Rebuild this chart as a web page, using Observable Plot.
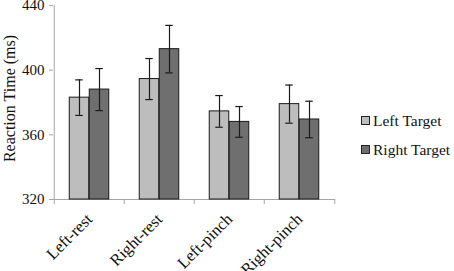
<!DOCTYPE html>
<html>
<head>
<meta charset="utf-8">
<script src="https://cdn.jsdelivr.net/npm/d3@7"></script>
<script src="https://cdn.jsdelivr.net/npm/@observablehq/plot@0.6"></script>
<style>
  html, body { margin: 0; padding: 0; background: #fff; }
  #wrap { position: relative; width: 454px; height: 271px; font-family: "Liberation Serif", serif; }
  #wrap svg { position: absolute; left: 0; top: 0; }
  #legend { position: absolute; left: 361px; top: 106px; font-size: 15.5px; color: #111; }
  .item { display: flex; align-items: center; height: 29px; }
  .sw { width: 7px; height: 7px; border: 1px solid #222; margin-right: 3px; }
</style>
</head>
<body>
<div id="wrap"><div id="legend"></div></div>
<script>
const categories = ["Left-rest", "Right-rest", "Left-pinch", "Right-pinch"];
const series = ["Left Target", "Right Target"];
const leftTarget = [383, 394.5, 374.5, 379];
const rightTarget = [388, 413, 368, 369.5];
const leftErr = [11, 12.7, 9.8, 11.8];
const rightErr = [13, 14.7, 9.5, 11.3];
const yTicks = [320, 360, 400, 440];
const colors = ["#bdbdbd", "#6f6f6f"];

const W = 454, H = 271;
const mL = 53, mR = 119, mT = 5, mB = 72;
const band = (W - mL - mR) / categories.length;
const barW = 20;
const side = (band - 2 * barW) / 2;

const left = categories.map((c, i) => ({cat: c, v: leftTarget[i], e: leftErr[i]}));
const right = categories.map((c, i) => ({cat: c, v: rightTarget[i], e: rightErr[i]}));

function barMarks(data, color, off) {
  const insL = off < 0 ? side : side + barW;
  const insR = off < 0 ? side + barW : side;
  return [
    Plot.barY(data, {x: "cat", y1: 320, y2: "v", fill: color, stroke: "#1a1a1a", strokeWidth: 1, insetLeft: insL, insetRight: insR}),
    Plot.ruleX(data, {x: "cat", y1: d => d.v - d.e, y2: d => d.v + d.e, dx: off, stroke: "#1a1a1a", strokeWidth: 1.2}),
    Plot.tickY(data, {x: "cat", y: d => d.v + d.e, dx: off, insetLeft: band / 2 - 4, insetRight: band / 2 - 4, stroke: "#1a1a1a", strokeWidth: 1.2}),
    Plot.tickY(data, {x: "cat", y: d => d.v - d.e, dx: off, insetLeft: band / 2 - 4, insetRight: band / 2 - 4, stroke: "#1a1a1a", strokeWidth: 1.2})
  ];
}

const chart = Plot.plot({
  width: W, height: H,
  marginLeft: mL, marginRight: mR, marginTop: mT, marginBottom: mB,
  style: {fontFamily: "Liberation Serif, serif", fontSize: "15px", color: "#111", background: "transparent", overflow: "visible"},
  x: {domain: categories, padding: 0, axis: null},
  y: {domain: [320, 440], ticks: yTicks, label: null},
  marks: [
    Plot.axisY({ticks: yTicks, tickSize: 4, tickPadding: 5, stroke: "#a6a6a6", label: null, fontSize: 15}),
    Plot.ruleX([0], {x: () => categories[0], dx: -band / 2, stroke: "#a6a6a6"}),
    Plot.ruleY([320], {stroke: "#a6a6a6"}),
    Plot.ruleX(categories, {x: d => d, dx: -band / 2, y1: 320, y2: 316.9, stroke: "#a6a6a6"}),
    Plot.ruleX([categories[categories.length - 1]], {x: d => d, dx: band / 2, y1: 320, y2: 316.9, stroke: "#a6a6a6"}),
    ...barMarks(left, colors[0], -barW / 2),
    ...barMarks(right, colors[1], barW / 2),
    Plot.text(categories, {x: d => d, y: 320, text: d => d, rotate: -45, textAnchor: "end", lineAnchor: "middle", dx: 0, dy: 17, fontSize: 16.5, fill: "#111"}),
    Plot.text(["Reaction Time (ms)"], {frameAnchor: "left", text: d => d, rotate: -90, textAnchor: "middle", dx: -44, dy: -4, fontSize: 16, fill: "#111"})
  ]
});
document.getElementById("wrap").prepend(chart);

const lg = document.getElementById("legend");
series.forEach((s, i) => {
  const it = document.createElement("div");
  it.className = "item";
  const sw = document.createElement("span");
  sw.className = "sw";
  sw.style.background = colors[i];
  const t = document.createElement("span");
  t.textContent = s;
  it.append(sw, t);
  lg.append(it);
});
</script>
</body>
</html>
